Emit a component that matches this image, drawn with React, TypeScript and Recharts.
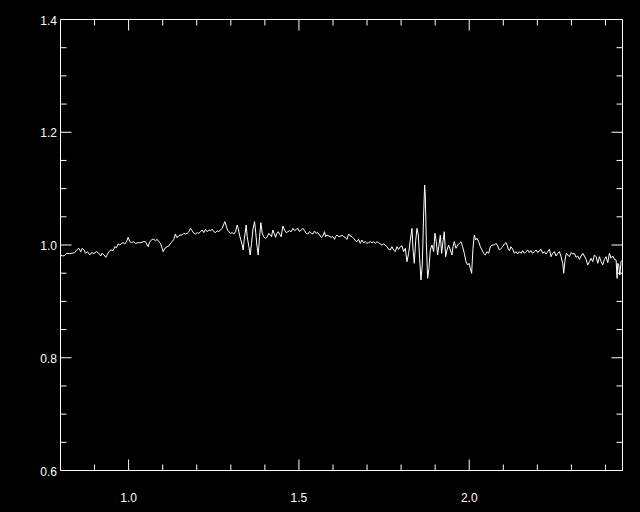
import React from 'react';
import { LineChart, Line, XAxis, YAxis } from 'recharts';

// wavelength (x) and flux ratio (y) left to right
const WAVELENGTH = [
  0.8000, 0.8067, 0.8126, 0.8175, 0.8273, 0.8371, 0.8420, 0.8468, 0.8537, 0.8596, 0.8635, 0.8694,
  0.8733, 0.8792, 0.8860, 0.8909, 0.8987, 0.9056, 0.9124, 0.9183, 0.9222, 0.9281, 0.9330, 0.9379,
  0.9418, 0.9477, 0.9545, 0.9594, 0.9643, 0.9692, 0.9741, 0.9790, 0.9839, 0.9888, 0.9937, 0.9986,
  1.0035, 1.0084, 1.0133, 1.0201, 1.0280, 1.0358, 1.0426, 1.0495, 1.0544, 1.0573, 1.0622, 1.0691,
  1.0740, 1.0789, 1.0838, 1.0887, 1.0936, 1.0985, 1.1014, 1.1063, 1.1132, 1.1181, 1.1229, 1.1278,
  1.1327, 1.1376, 1.1406, 1.1455, 1.1504, 1.1572, 1.1621, 1.1670, 1.1719, 1.1768, 1.1817, 1.1866,
  1.1915, 1.1964, 1.2013, 1.2062, 1.2111, 1.2160, 1.2208, 1.2257, 1.2306, 1.2355, 1.2404, 1.2453,
  1.2502, 1.2551, 1.2600, 1.2649, 1.2698, 1.2747, 1.2796, 1.2825, 1.2864, 1.2904, 1.2943, 1.2992,
  1.3041, 1.3090, 1.3139, 1.3187, 1.3217, 1.3256, 1.3295, 1.3334, 1.3364, 1.3393, 1.3432,
  1.3452, 1.3481, 1.3530, 1.3569, 1.3609, 1.3648, 1.3697, 1.3726, 1.3765, 1.3804, 1.3844, 1.3883,
  1.3922, 1.3961, 1.4020, 1.4059, 1.4118, 1.4157, 1.4196, 1.4235, 1.4274, 1.4314, 1.4353, 1.4392,
  1.4431, 1.4480, 1.4529, 1.4578, 1.4627, 1.4676, 1.4725, 1.4774, 1.4823, 1.4872, 1.4921, 1.4969,
  1.5018, 1.5067, 1.5116, 1.5165, 1.5214, 1.5263, 1.5312, 1.5361, 1.5410, 1.5459, 1.5508, 1.5557,
  1.5606, 1.5655, 1.5704, 1.5753, 1.5782, 1.5821, 1.5880, 1.5949, 1.5997, 1.6046, 1.6076, 1.6115,
  1.6174, 1.6242,
  1.6263, 1.6312, 1.6361, 1.6410, 1.6459, 1.6508, 1.6557, 1.6606, 1.6655, 1.6704, 1.6752, 1.6801,
  1.6850, 1.6899, 1.6948, 1.6997, 1.7046, 1.7095, 1.7144, 1.7193, 1.7242, 1.7291, 1.7340, 1.7389,
  1.7438, 1.7487, 1.7536, 1.7585, 1.7634, 1.7683, 1.7731, 1.7780, 1.7829, 1.7878, 1.7927,
  1.7976, 1.8025, 1.8074, 1.8123, 1.8172, 1.8221, 1.8270, 1.8319, 1.8348, 1.8387, 1.8426, 1.8466,
  1.8505, 1.8544, 1.8583, 1.8622, 1.8661, 1.8691, 1.8710, 1.8740, 1.8779, 1.8818, 1.8857, 1.8906,
  1.8955, 1.8994, 1.9033, 1.9072, 1.9112, 1.9151, 1.9190, 1.9229, 1.9268, 1.9307, 1.9347, 1.9396,
  1.9445, 1.9493, 1.9523, 1.9562, 1.9611, 1.9660, 1.9709, 1.9758, 1.9807, 1.9856, 1.9905, 1.9954,
  1.9993, 2.0032, 2.0071, 2.0110, 2.0149, 2.0189, 2.0228, 2.0277, 2.0326, 2.0375, 2.0424, 2.0472,
  2.0521, 2.0570, 2.0619, 2.0668, 2.0717,
  2.0738, 2.0787, 2.0836, 2.0885, 2.0934, 2.0983, 2.1032, 2.1081, 2.1110, 2.1149, 2.1179, 2.1228,
  2.1276, 2.1325, 2.1374, 2.1423, 2.1472, 2.1521, 2.1570, 2.1619, 2.1668, 2.1717, 2.1766, 2.1815,
  2.1864, 2.1913, 2.1962, 2.2011, 2.2060, 2.2109, 2.2158, 2.2207, 2.2255, 2.2304, 2.2353, 2.2402,
  2.2451, 2.2500, 2.2549, 2.2598, 2.2647, 2.2696, 2.2745, 2.2774, 2.2813, 2.2852, 2.2892, 2.2941,
  2.2990, 2.3039, 2.3088, 2.3137, 2.3186, 2.3235, 2.3284, 2.3333, 2.3382, 2.3431, 2.3479, 2.3528,
  2.3577, 2.3626, 2.3675, 2.3724, 2.3773, 2.3822, 2.3871, 2.3920, 2.3969, 2.4018, 2.4067, 2.4116,
  2.4165, 2.4214, 2.4263, 2.4312, 2.4341, 2.4361, 2.4390, 2.4419, 2.4458, 2.4500,
];

const RATIO = [
  0.9823, 0.9805, 0.9817, 0.9852, 0.9846, 0.9858, 0.9864, 0.9911, 0.9941, 0.9882, 0.9941, 0.9911,
  0.9852, 0.9882, 0.9823, 0.9864, 0.9852, 0.9882, 0.9852, 0.9805, 0.9852, 0.9823, 0.9781, 0.9835,
  0.9882, 0.9911, 0.9900, 0.9970, 0.9953, 1.0018, 1.0000, 1.0030, 1.0041, 1.0018, 1.0059, 1.0136,
  1.0059, 1.0041, 1.0059, 1.0030, 1.0041, 1.0041, 1.0059, 1.0059, 1.0000, 0.9970, 1.0059, 1.0100,
  1.0100, 1.0077, 1.0100, 1.0059, 1.0030, 0.9941, 0.9882, 0.9941, 0.9970, 0.9982, 1.0030, 1.0059,
  1.0100, 1.0195, 1.0136, 1.0148, 1.0177, 1.0177, 1.0207, 1.0195, 1.0207, 1.0236, 1.0296, 1.0254,
  1.0207, 1.0195, 1.0219, 1.0207, 1.0236, 1.0266, 1.0219, 1.0278, 1.0236, 1.0266, 1.0254, 1.0278,
  1.0236, 1.0219, 1.0254, 1.0236, 1.0266, 1.0296, 1.0372, 1.0414, 1.0337, 1.0266, 1.0236, 1.0207,
  1.0219, 1.0195, 1.0236, 1.0355, 1.0296, 1.0177, 1.0089, 1.0000, 0.9911, 1.0089, 1.0266,
  1.0355, 1.0148, 0.9970, 0.9823, 1.0030, 1.0266, 1.0414, 1.0266, 1.0000, 0.9823, 1.0148, 1.0396,
  1.0207, 1.0148, 1.0118, 1.0136, 1.0207, 1.0177, 1.0148, 1.0266, 1.0207, 1.0136, 1.0207, 1.0236,
  1.0195, 1.0148, 1.0337, 1.0266, 1.0219, 1.0236, 1.0254, 1.0236, 1.0296, 1.0254, 1.0278, 1.0296,
  1.0236, 1.0266, 1.0296, 1.0254, 1.0207, 1.0195, 1.0236, 1.0207, 1.0195, 1.0248, 1.0207, 1.0219,
  1.0177, 1.0136, 1.0160, 1.0236, 1.0148, 1.0177, 1.0160, 1.0136, 1.0148, 1.0100, 1.0148, 1.0177,
  1.0148, 1.0160,
  1.0177, 1.0148, 1.0136, 1.0100, 1.0195, 1.0160, 1.0148, 1.0118, 1.0077, 1.0059, 1.0100, 1.0030,
  1.0089, 1.0041, 1.0059, 1.0030, 1.0041, 1.0059, 1.0041, 1.0059, 1.0030, 1.0059, 1.0041, 1.0018,
  1.0000, 1.0018, 1.0000, 0.9970, 0.9923, 0.9911, 0.9970, 0.9911, 0.9882, 0.9970, 0.9923,
  0.9970, 0.9988, 0.9882, 0.9941, 0.9704, 0.9852, 1.0089, 1.0296, 0.9941, 0.9675, 1.0059, 1.0296,
  1.0177, 0.9764, 0.9379, 0.9645, 1.0532, 1.1064, 1.0887, 1.0059, 0.9409, 0.9586, 0.9911, 1.0000,
  0.9882, 1.0207, 1.0059, 0.9823, 1.0000, 1.0177, 0.9852, 1.0059, 1.0236, 0.9793, 0.9911, 1.0000,
  0.9911, 0.9823, 0.9970, 1.0059, 0.9941, 1.0000, 1.0030, 1.0059, 0.9970, 0.9852, 0.9704, 0.9645,
  0.9675, 0.9586, 0.9498, 0.9941, 1.0177, 1.0089, 1.0118, 1.0059, 0.9970, 0.9911, 0.9852, 0.9823,
  0.9882, 0.9852, 0.9970, 1.0000, 1.0000,
  1.0000, 1.0030, 0.9982, 0.9911, 0.9941, 0.9970, 1.0018, 1.0041, 1.0000, 0.9923, 0.9900, 0.9970,
  0.9923, 0.9852, 0.9882, 0.9840, 0.9882, 0.9852, 0.9900, 0.9852, 0.9882, 0.9911, 0.9864, 0.9900,
  0.9852, 0.9882, 0.9911, 0.9864, 0.9900, 0.9923, 0.9852, 0.9882, 0.9840, 0.9882, 0.9923, 0.9793,
  0.9852, 0.9882, 0.9805, 0.9852, 0.9882, 0.9793, 0.9675, 0.9498, 0.9734, 0.9852, 0.9823, 0.9793,
  0.9864, 0.9840, 0.9852, 0.9781, 0.9805, 0.9746, 0.9805, 0.9852, 0.9805, 0.9746, 0.9645, 0.9704,
  0.9764, 0.9704, 0.9823, 0.9793, 0.9675, 0.9793, 0.9704, 0.9645, 0.9746, 0.9793, 0.9687, 0.9852,
  0.9764, 0.9805, 0.9746, 0.9734, 0.9409, 0.9675, 0.9645, 0.9468, 0.9704, 0.9734,
];

const X_DOMAIN = [0.8, 2.45];
const Y_DOMAIN = [0.6, 1.4];
const X_TICKS = [0.9, 1.0, 1.1, 1.2, 1.3, 1.4, 1.5, 1.6, 1.7, 1.8, 1.9, 2.0, 2.1, 2.2, 2.3, 2.4];
const X_LABELS = [1.0, 1.5, 2.0];
const Y_TICKS = [
  0.6, 0.65, 0.7, 0.75, 0.8, 0.85, 0.9, 0.95, 1.0, 1.05, 1.1, 1.15, 1.2, 1.25, 1.3, 1.35, 1.4,
];
const Y_LABELS = [0.6, 0.8, 1.0, 1.2, 1.4];

const data = WAVELENGTH.map((w, i) => ({ w, r: RATIO[i] }));

const inList = (list: number[], v: number) => list.some((t) => Math.abs(t - v) < 1e-6);

const FONT = { fontFamily: 'Liberation Sans, Arial, sans-serif', fontSize: 12 };

// ticks point into the plot box, IDL style
const xTick = (dir: number, withLabel: boolean) => (props: any) => {
  const { x, y, payload } = props;
  const major = inList(X_LABELS, payload.value);
  return (
    <g>
      <line x1={x} x2={x} y1={y} y2={y + dir * (major ? 11 : 6)} stroke="#fff" />
      {withLabel && major && (
        <text x={x} y={y + 27} textAnchor="middle" dominantBaseline="central" fill="#fff" {...FONT}>
          {payload.value.toFixed(1)}
        </text>
      )}
    </g>
  );
};

const yTick = (dir: number, withLabel: boolean) => (props: any) => {
  const { x, y, payload } = props;
  const major = inList(Y_LABELS, payload.value);
  return (
    <g>
      <line x1={x} x2={x + dir * (major ? 11 : 6)} y1={y} y2={y} stroke="#fff" />
      {withLabel && major && (
        <text x={x - 3.5} y={y + 1} textAnchor="end" dominantBaseline="central" fill="#fff" {...FONT}>
          {payload.value.toFixed(1)}
        </text>
      )}
    </g>
  );
};

export default function App() {
  return (
    <div style={{ position: 'absolute', left: 0, top: 0, width: 640, height: 512, background: '#000' }}>
      <LineChart
        width={640}
        height={512}
        data={data}
        margin={{ top: 18.5, right: 16.5, bottom: 40.5, left: 59.5 }}
      >
        <XAxis
          xAxisId="bottom"
          dataKey="w"
          type="number"
          domain={X_DOMAIN}
          allowDataOverflow
          ticks={X_TICKS}
          interval={0}
          height={1}
          tickSize={0}
          tickMargin={0}
          tickLine={false}
          axisLine={{ stroke: '#fff' }}
          tick={xTick(-1, true)}
        />
        <XAxis
          xAxisId="top"
          orientation="top"
          dataKey="w"
          type="number"
          domain={X_DOMAIN}
          allowDataOverflow
          ticks={X_TICKS}
          interval={0}
          height={1}
          tickSize={0}
          tickMargin={0}
          tickLine={false}
          axisLine={{ stroke: '#fff' }}
          tick={xTick(1, false)}
        />
        <YAxis
          yAxisId="left"
          type="number"
          domain={Y_DOMAIN}
          allowDataOverflow
          ticks={Y_TICKS}
          interval={0}
          width={1}
          tickSize={0}
          tickMargin={0}
          tickLine={false}
          axisLine={{ stroke: '#fff' }}
          tick={yTick(1, true)}
        />
        <YAxis
          yAxisId="right"
          orientation="right"
          type="number"
          domain={Y_DOMAIN}
          allowDataOverflow
          ticks={Y_TICKS}
          interval={0}
          width={1}
          tickSize={0}
          tickMargin={0}
          tickLine={false}
          axisLine={{ stroke: '#fff' }}
          tick={yTick(-1, false)}
        />
        <Line
          xAxisId="top"
          yAxisId="right"
          dataKey="r"
          stroke="none"
          dot={false}
          activeDot={false}
          isAnimationActive={false}
        />
        <Line
          xAxisId="bottom"
          yAxisId="left"
          type="linear"
          dataKey="r"
          stroke="#fff"
          strokeWidth={1}
          dot={false}
          activeDot={false}
          isAnimationActive={false}
        />
      </LineChart>
    </div>
  );
}
